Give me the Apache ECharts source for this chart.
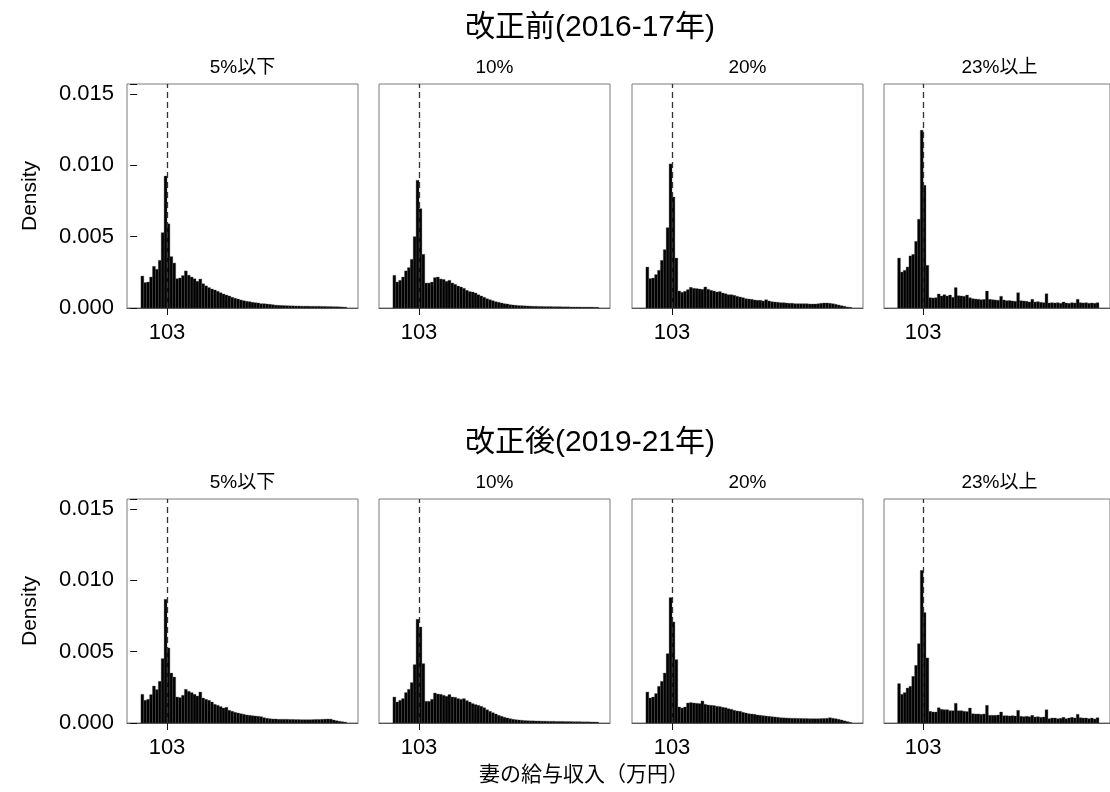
<!DOCTYPE html>
<html><head><meta charset="utf-8">
<script src="https://cdn.jsdelivr.net/npm/echarts@6/dist/echarts.min.js"></script>
<style>html,body{margin:0;padding:0;background:#fff}#c{width:1110px;height:792px}</style>
</head><body><div id="c"></div>
<script>
// ---- data ----
const rowTitles = ['改正前(2016-17年)', '改正後(2019-21年)'];
const panelTitles = ['5%以下', '10%', '20%', '23%以上'];
const xTitle = '妻の給与収入（万円）';
const yTitle = 'Density';
const markIncome = 103;           // 万円
const binFirst = 13, binStep = 10; // histogram breaks (万円)
const yTicks = [0, 0.005, 0.010, 0.015];

// densities, pre reform (2016-17)
const pre5 = [0.00224,0.00178,0.00182,0.00217,0.00292,0.00271,0.00334,0.00528,0.00925,
 0.0059,0.0036,0.00315,0.00205,0.0021,0.00227,0.0026,0.0023,0.00217,0.00205,
 0.00187,0.00203,0.0017,0.00155,0.00143,0.00133,0.00126,0.00117,0.00107,0.00098,
 0.00091,0.00084,0.00075,0.00068,0.00063,0.00056,0.00051,0.00047,0.00044,0.0004,
 0.00037,0.00035,0.0003,0.0003,0.00028,0.00026,0.00023,0.0002,0.00019,0.00018,
 0.00017,0.00016,0.00015,0.00015,0.00014,0.00014,0.00013,0.00013,0.00013,0.00012,
 0.00012,0.00012,0.00012,0.00011,0.00011,0.0001,0.0001,0.00009,0.00009,0.00008,0.00007,0.00006];
const pre10 = [0.00229,0.00182,0.00194,0.00217,0.0026,0.00283,0.00341,0.005,0.00895,
 0.00696,0.00376,0.00175,0.00175,0.00182,0.00213,0.00217,0.00203,0.002,0.00187,
 0.00194,0.00175,0.00166,0.00154,0.00147,0.00138,0.00124,0.00115,0.00112,0.00105,
 0.00093,0.00084,0.00075,0.00065,0.00058,0.00051,0.00044,0.0004,0.00035,0.0003,
 0.00028,0.00023,0.00021,0.00019,0.00017,0.00016,0.00015,0.00014,0.00013,0.00012,
 0.00012,0.00011,0.00011,0.0001,0.0001,0.0001,0.00009,0.00009,0.00009,0.00008,
 0.00008,0.00008,0.00007,0.00007,0.00007,0.00007,0.00006,0.00006,0.00006,0.00006,0.00005,0.00005];
const pre20 = [0.00287,0.00206,0.0021,0.00234,0.00264,0.00334,0.00409,0.00563,0.0101,
 0.00778,0.0035,0.00119,0.0011,0.00117,0.00129,0.00145,0.00138,0.00136,0.00133,
 0.00131,0.00147,0.00131,0.00124,0.00119,0.00112,0.00115,0.00105,0.001,0.00093,
 0.00093,0.00089,0.00082,0.00077,0.00072,0.00065,0.00063,0.00061,0.00056,0.00054,
 0.00054,0.00049,0.00058,0.00049,0.00044,0.00042,0.0004,0.00037,0.00037,0.00035,
 0.00033,0.00033,0.0003,0.0003,0.0003,0.0003,0.0003,0.00028,0.00028,0.00028,
 0.0003,0.00033,0.00035,0.00035,0.00033,0.0003,0.00026,0.00021,0.00016,0.00012,0.00007,0.00005];
const pre23 = [0.0035,0.00252,0.00264,0.00287,0.00365,0.00376,0.00467,0.00622,0.01246,
 0.0086,0.00299,0.00072,0.0007,0.00072,0.00098,0.00084,0.00093,0.00084,0.00091,
 0.00075,0.00143,0.00086,0.00084,0.00082,0.00091,0.00072,0.00065,0.00063,0.00061,
 0.00058,0.0006,0.00119,0.00061,0.00058,0.00056,0.00054,0.00082,0.00056,0.00051,
 0.00052,0.00049,0.00047,0.00107,0.00051,0.00049,0.00047,0.00042,0.00061,0.00042,
 0.00044,0.0004,0.00037,0.001,0.00035,0.00037,0.00035,0.00037,0.00033,0.00042,
 0.00035,0.00033,0.00037,0.00035,0.00061,0.00037,0.00035,0.00037,0.00033,0.00035,0.00033,0.00037];
// densities, post reform (2019-21)
const post5 = [0.00201,0.00159,0.00166,0.00199,0.00259,0.00234,0.00292,0.00451,0.00867,
 0.00526,0.0035,0.00322,0.00182,0.00178,0.00194,0.00236,0.00222,0.00213,0.00201,
 0.00189,0.00217,0.00175,0.00166,0.00159,0.00147,0.00131,0.00124,0.00115,0.00105,
 0.0011,0.00089,0.00082,0.00075,0.0007,0.00065,0.00061,0.00056,0.00054,0.00051,
 0.00049,0.00047,0.00044,0.00037,0.00033,0.0003,0.00028,0.00028,0.00026,0.00026,
 0.00026,0.00026,0.00025,0.00025,0.00024,0.00024,0.00023,0.00023,0.00023,0.00023,
 0.00024,0.00025,0.00025,0.00026,0.00027,0.00028,0.00027,0.00021,0.00016,0.00012,0.00009,0.00006];
const post10 = [0.00182,0.00147,0.00159,0.00171,0.00213,0.00236,0.00283,0.00409,0.00727,
 0.00673,0.00416,0.00152,0.00152,0.00166,0.0021,0.00203,0.00201,0.00194,0.00187,
 0.00199,0.00182,0.0018,0.00171,0.00166,0.00171,0.00157,0.00147,0.00136,0.00129,
 0.00124,0.00117,0.00107,0.00093,0.00082,0.00072,0.00063,0.00054,0.00047,0.0004,
 0.00035,0.0003,0.00026,0.00023,0.00021,0.00019,0.00017,0.00016,0.00015,0.00015,
 0.00014,0.00014,0.00013,0.00013,0.00012,0.00012,0.00012,0.00011,0.00011,0.00011,
 0.0001,0.0001,0.0001,0.00009,0.00009,0.00009,0.00008,0.00008,0.00008,0.00007,0.00007,0.00006];
const post20 = [0.00217,0.00175,0.00182,0.00206,0.00257,0.00292,0.0035,0.00486,0.00879,
 0.00708,0.00444,0.00112,0.00105,0.00112,0.0014,0.00143,0.0014,0.00138,0.00136,
 0.00154,0.00131,0.00126,0.00124,0.00122,0.00117,0.00115,0.0011,0.00107,0.001,
 0.00096,0.00089,0.00084,0.00082,0.00075,0.0007,0.00065,0.00063,0.00061,0.00056,
 0.00054,0.00051,0.00049,0.00047,0.00044,0.00042,0.0004,0.00037,0.00036,0.00035,
 0.00034,0.00033,0.00033,0.00032,0.00032,0.00031,0.00031,0.0003,0.0003,0.0003,
 0.0003,0.00031,0.00032,0.00033,0.00037,0.00033,0.0003,0.00026,0.00021,0.00015,0.0001,0.00005];
const post23 = [0.00276,0.00201,0.00213,0.00245,0.00257,0.00327,0.00404,0.00556,0.0107,
 0.00774,0.00456,0.00082,0.00077,0.00077,0.00107,0.00096,0.00093,0.00093,0.00086,
 0.00086,0.00138,0.00086,0.00086,0.00082,0.0008,0.00105,0.00065,0.00063,0.00063,
 0.00061,0.00063,0.00124,0.00054,0.00054,0.00054,0.00056,0.00077,0.00051,0.00051,
 0.00049,0.00051,0.00049,0.00089,0.00047,0.00044,0.00047,0.00044,0.00054,0.00042,
 0.00044,0.0004,0.00042,0.00093,0.0003,0.00035,0.00035,0.0003,0.00033,0.0004,
 0.0003,0.00035,0.0004,0.00035,0.00061,0.00037,0.00035,0.00035,0.0003,0.00035,0.00028,0.00037];

const panels = [[pre5, pre10, pre20, pre23], [post5, post10, post20, post23]];

// ---- layout ----
const FONT = "'Liberation Sans', 'Noto Sans CJK JP', sans-serif";
const gridLefts = [127, 379, 632, 884];
const gridW = 231, gridH = 224;
const gridTops = [84, 499];
const xMin = -35, xMax = 762, yMax = 0.0157;

const grids = [], xAxes = [], yAxes = [], series = [], graphics = [];
panels.forEach((row, r) => {
  row.forEach((vals, c) => {
    const idx = grids.length;
    grids.push({left: gridLefts[c], top: gridTops[r], width: gridW, height: gridH,
      show: true, borderColor: '#7a7a7a', borderWidth: 1, backgroundColor: 'transparent'});
    xAxes.push({type: 'value', gridIndex: idx, min: xMin, max: xMax,
      splitLine: {show: false},
      axisLine: {show: true, onZero: false, lineStyle: {color: '#555', width: 1}},
      axisTick: {show: true, customValues: [markIncome], length: 7, lineStyle: {color: '#111', width: 1}},
      axisLabel: {show: true, customValues: [markIncome], margin: 14, fontSize: 22, color: '#000', fontFamily: FONT}});
    yAxes.push({type: 'value', gridIndex: idx, min: 0, max: yMax, interval: 0.005,
      splitLine: {show: false},
      axisLine: {show: false},
      axisTick: {show: c === 0, length: 7, lineStyle: {color: '#111', width: 1}},
      axisLabel: {show: c === 0, margin: 13, fontSize: 22, color: '#000', fontFamily: FONT,
        formatter: v => v.toFixed(3), customValues: yTicks}});
    const data = vals.map((d, i) => [binFirst + i * binStep, binFirst + (i + 1) * binStep, d]);
    series.push({type: 'custom', xAxisIndex: idx, yAxisIndex: idx, data: data,
      encode: {x: [0, 1], y: 2},
      renderItem: function (params, api) {
        const p0 = api.coord([api.value(0), api.value(2)]);
        const p1 = api.coord([api.value(1), 0]);
        return {type: 'rect',
          shape: {x: p0[0], y: p0[1], width: p1[0] - p0[0], height: p1[1] - p0[1]},
          style: {fill: '#000', stroke: '#4a4a4a', lineWidth: 0.35}};
      },
      markLine: {silent: true, symbol: ['none', 'none'], label: {show: false},
        lineStyle: {color: '#333', type: [6, 4], width: 1.3},
        data: [[{coord: [markIncome, 0]}, {coord: [markIncome, yMax]}]]},
      z: 2});
    graphics.push({type: 'text', x: gridLefts[c] + gridW / 2, y: gridTops[r] - 16,
      style: {text: panelTitles[c], font: '19px ' + FONT, fill: '#000',
        align: 'center', verticalAlign: 'middle', textAlign: 'center', textVerticalAlign: 'middle'}});
  });
  graphics.push({type: 'text', x: 590, y: gridTops[r] - 56,
    style: {text: rowTitles[r], font: '30px ' + FONT, fill: '#000',
      align: 'center', verticalAlign: 'middle', textAlign: 'center', textVerticalAlign: 'middle'}});
  graphics.push({type: 'text', x: 30, y: gridTops[r] + 112, rotation: Math.PI / 2,
    style: {text: yTitle, font: '21px ' + FONT, fill: '#000',
      align: 'center', verticalAlign: 'middle', textAlign: 'center', textVerticalAlign: 'middle'}});
});
graphics.push({type: 'text', x: 584, y: 775,
  style: {text: xTitle, font: '21px ' + FONT, fill: '#000',
    align: 'center', verticalAlign: 'middle', textAlign: 'center', textVerticalAlign: 'middle'}});

const chart = echarts.init(document.getElementById('c'), null, {renderer: 'canvas'});
chart.setOption({animation: false, backgroundColor: '#fff',
  grid: grids, xAxis: xAxes, yAxis: yAxes, series: series, graphic: graphics});
</script></body></html>
